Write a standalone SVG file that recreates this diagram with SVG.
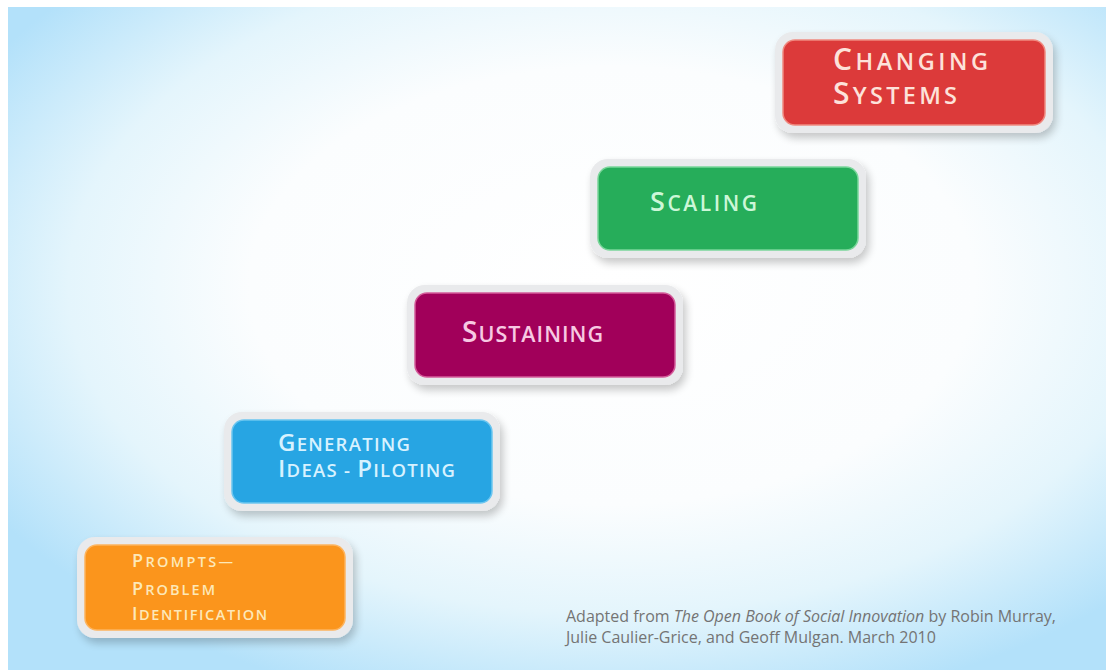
<svg xmlns="http://www.w3.org/2000/svg" width="1106" height="670" viewBox="0 0 1106 670">
<defs>
  <radialGradient id="bg" cx="0.55" cy="0.42" r="0.66">
    <stop offset="0" stop-color="#ffffff"/>
    <stop offset="0.5" stop-color="#fbfdfe"/>
    <stop offset="0.75" stop-color="#e4f5fc"/>
    <stop offset="1" stop-color="#b3e1fa"/>
  </radialGradient>
  <filter id="sh" x="-20%" y="-30%" width="140%" height="170%">
    <feGaussianBlur in="SourceAlpha" stdDeviation="4"/>
    <feOffset dx="3" dy="5" result="b"/>
    <feComponentTransfer><feFuncA type="linear" slope="0.22"/></feComponentTransfer>
    <feMerge><feMergeNode/><feMergeNode in="SourceGraphic"/></feMerge>
  </filter>
</defs>
<style>
  .frame { fill: #e9eaec; }
  .lbl { font-family: "Open Sans", "Noto Sans", "Liberation Sans", sans-serif; font-weight: 600; }
  .foot { font-family: "Open Sans", "Liberation Sans", sans-serif; font-size: 16px; fill: #747474; }
</style>
<rect x="0" y="0" width="1106" height="670" fill="#ffffff"/>
<rect x="8" y="7" width="1098" height="663" fill="url(#bg)"/>

<g id="node-prompts">
  <rect class="frame" x="77" y="537" width="276" height="101" rx="18" filter="url(#sh)"/>
  <rect x="85" y="545" width="260" height="85" rx="12" fill="#fb951c" stroke="#fdb45e" stroke-width="1.5"/>
  <text class="lbl" fill="#fde8b8" font-size="14.5"><tspan x="132" y="567" textLength="101" lengthAdjust="spacing"><tspan font-size="18">P</tspan>ROMPTS—</tspan><tspan x="132" y="595" textLength="83" lengthAdjust="spacing"><tspan font-size="18">P</tspan>ROBLEM</tspan><tspan x="132" y="620" textLength="135" lengthAdjust="spacing"><tspan font-size="18">I</tspan>DENTIFICATION</tspan></text>
</g>

<g id="node-generating">
  <rect class="frame" x="224" y="412" width="276" height="99" rx="18" filter="url(#sh)"/>
  <rect x="232" y="420" width="260" height="83" rx="12" fill="#27a5e3" stroke="#6cc6f0" stroke-width="1.5"/>
  <text class="lbl" fill="#d7f2ff" font-size="18.5"><tspan x="278" y="451" textLength="132" lengthAdjust="spacing"><tspan font-size="24">G</tspan>ENERATING</tspan><tspan x="278" y="477" textLength="177" lengthAdjust="spacing"><tspan font-size="24">I</tspan>DEAS - <tspan font-size="24">P</tspan>ILOTING</tspan></text>
</g>

<g id="node-sustaining">
  <rect class="frame" x="407" y="285" width="276" height="100" rx="18" filter="url(#sh)"/>
  <rect x="415" y="293" width="260" height="84" rx="12" fill="#a1005a" stroke="#d45c9a" stroke-width="1.5"/>
  <text class="lbl" x="462" y="342" font-size="21.5" fill="#f7c9e2" textLength="141" lengthAdjust="spacing"><tspan font-size="28">S</tspan>USTAINING</text>
</g>

<g id="node-scaling">
  <rect class="frame" x="590" y="159" width="276" height="99" rx="18" filter="url(#sh)"/>
  <rect x="598" y="167" width="260" height="83" rx="12" fill="#26ad5a" stroke="#7ad69a" stroke-width="1.5"/>
  <text class="lbl" x="650" y="211" font-size="21" fill="#cdf7d8" textLength="107" lengthAdjust="spacing"><tspan font-size="27">S</tspan>CALING</text>
</g>

<g id="node-changing">
  <rect class="frame" x="775" y="32" width="278" height="101" rx="18" filter="url(#sh)"/>
  <rect x="783" y="40" width="262" height="85" rx="12" fill="#dc3a3a" stroke="#f08a80" stroke-width="1.5"/>
  <text class="lbl" fill="#fde2da" font-size="23.5"><tspan x="833" y="70" textLength="155" lengthAdjust="spacing"><tspan font-size="30">C</tspan>HANGING</tspan><tspan x="833" y="104" textLength="124" lengthAdjust="spacing"><tspan font-size="30">S</tspan>YSTEMS</tspan></text>
</g>

<g id="connectors"></g>

<g id="caption">
  <text class="foot" x="566" y="622">Adapted from <tspan font-style="italic">The Open Book of Social Innovation</tspan> by Robin Murray,</text>
  <text class="foot" x="566" y="643">Julie Caulier-Grice, and Geoff Mulgan. March 2010</text>
</g>
</svg>
